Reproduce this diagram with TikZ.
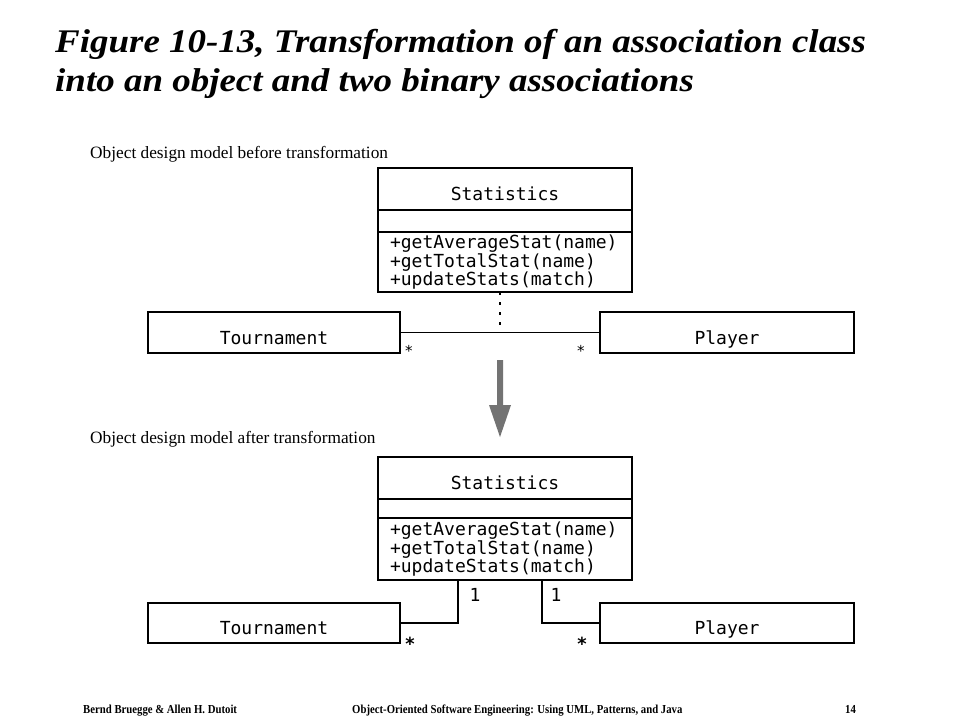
\documentclass[tikz,border=0pt]{standalone}
\usepackage{fontspec}
\setmainfont{Liberation Serif}
\setmonofont{DejaVu Sans Mono}
\newfontfamily\titlefont[FakeStretch=1.12]{Liberation Serif}
\newfontfamily\footfont[FakeStretch=0.88]{Liberation Serif}
\usetikzlibrary{positioning}

\tikzset{
  umlclass/.style={draw, line width=1.6pt, outer sep=0pt, inner sep=0pt,
    minimum width=254pt, font=\fontsize{18}{16}\selectfont\ttfamily},
  classname/.style={umlclass, text height=23.5pt, text depth=0pt},
  opsbox/.style={umlclass, align=left, text width=230pt, inner xsep=12pt},
  assocline/.style={line width=1.6pt},
  titleline/.style={anchor=base west, inner sep=0pt, font=\titlefont\bfseries\itshape\fontsize{33}{39}\selectfont},
  caption/.style={anchor=base west, inner sep=0pt, font=\fontsize{17.3}{17}\selectfont},
  multlabel/.style={inner sep=0pt, font=\fontsize{18}{18}\selectfont\ttfamily},
  footer/.style={anchor=base west, inner sep=0pt, font=\footfont\bfseries\fontsize{12.2}{12}\selectfont}
}

\begin{document}
\begin{tikzpicture}[x=1pt, y=-1pt]
\useasboundingbox[fill=white] (0,0) rectangle (960,720);

% Titel
\node[titleline] (title1) at (55,52) {Figure 10-13, Transformation of an association class};
\node[titleline] (title2) at (55,91) {into an object and two binary associations};

% Vorher
\node[caption] (capbefore) at (90,158) {Object design model before transformation};

\node[classname, minimum height=42pt, anchor=north west] (stathead) at (378,168) {Statistics};
\node[umlclass, minimum height=22pt, below=0pt of stathead] (statattr) {};
\node[opsbox, minimum height=60pt, below=0pt of statattr] (statops)
  {+getAverageStat(name)\\+getTotalStat(name)\\+updateStats(match)};

\node[classname, minimum width=252pt, minimum height=41pt, anchor=north west] (tourn) at (148,312) {Tournament};
\node[classname, minimum height=41pt, anchor=north west] (player) at (600,312) {Player};

\draw[assocline] (tourn.east) -- coordinate[pos=0.5] (assoc) (player.west);
\draw[line width=2pt, dash pattern=on 3pt off 7pt] (assoc |- statops.south) -- (assoc);

\node[multlabel, font=\fontsize{15}{15}\selectfont\ttfamily] (startourn) at (409,351) {*};
\node[multlabel, font=\fontsize{15}{15}\selectfont\ttfamily] (starplayer) at (581,351) {*};

% Transformationspfeil
\fill[black!55] (497,360) -- (503,360) -- (503,405) -- (511,405) -- (500,437)
  -- (489,405) -- (497,405) -- cycle;

% Nachher
\node[caption] (capafter) at (90,443) {Object design model after transformation};

\node[classname, minimum height=42pt, anchor=north west] (stathead2) at (378,457) {Statistics};
\node[umlclass, minimum height=19pt, below=0pt of stathead2] (statattr2) {};
\node[opsbox, minimum height=62pt, below=0pt of statattr2] (statops2)
  {+getAverageStat(name)\\+getTotalStat(name)\\+updateStats(match)};

\node[classname, minimum width=252pt, minimum height=40pt, anchor=north west] (tourn2) at (148,603) {Tournament};
\node[classname, minimum height=40pt, anchor=north west] (player2) at (600,603) {Player};

\draw[assocline] (statops2.south west) ++(80,0) |- (tourn2.east);
\draw[assocline] (statops2.south east) ++(-90,0) |- (player2.west);

\node[multlabel] (onetourn) at (475,595) {1};
\node[multlabel] (oneplayer) at (556,595) {1};
\node[multlabel, font=\fontsize{18}{18}\selectfont\ttfamily\bfseries] (startourn2) at (410,644) {*};
\node[multlabel, font=\fontsize{18}{18}\selectfont\ttfamily\bfseries] (starplayer2) at (582,644) {*};

% Fusszeile
\node[footer] (authors) at (83,713) {Bernd Bruegge \& Allen H. Dutoit};
\node[footer] (book) at (352,713) {Object-Oriented Software Engineering: Using UML, Patterns, and Java};
\node[footer] (page) at (845,713) {14};
\end{tikzpicture}
\end{document}
